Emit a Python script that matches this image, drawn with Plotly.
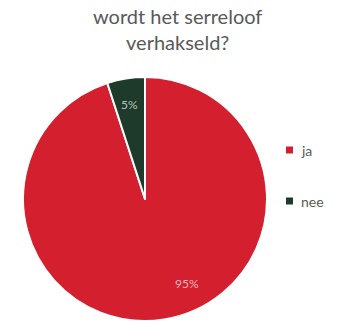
import plotly.graph_objects as go

labels = ["ja", "nee"]
values = [95, 5]
colors = ["#D31F2E", "#1E3A2B"]
title_text = "wordt het serreloof<br>verhakseld?"

fig = go.Figure()
fig.add_trace(go.Pie(
    labels=labels,
    values=values,
    sort=False,
    direction="clockwise",
    rotation=0,
    marker=dict(colors=colors, line=dict(color="white", width=2)),
    textinfo="none",
    hoverinfo="label+percent",
    showlegend=False,
    domain=dict(x=[0.067, 0.781], y=[0.0, 0.76]),
))

# slice percentage labels
label_pos = [(187, 293), (129, 95)]
label_col = ["#F2B8BE", "#B9C2BC"]
for v, (px, py), c in zip(values, label_pos, label_col):
    fig.add_annotation(
        x=px / 342, y=1 - py / 321, xref="paper", yref="paper",
        text=f"{round(100 * v / sum(values))}%", showarrow=False,
        font=dict(family="Lato, Open Sans, sans-serif", size=12, color=c),
    )

# legend
legend_y = [150, 201]
for lab, col, ly in zip(labels, colors, legend_y):
    fig.add_shape(
        type="rect", xref="paper", yref="paper",
        x0=286 / 342, x1=293 / 342, y0=1 - (ly + 3.5) / 321, y1=1 - (ly - 3.5) / 321,
        fillcolor=col, line=dict(width=0),
    )
    fig.add_annotation(
        x=299 / 342, y=1 - ly / 321, xref="paper", yref="paper",
        text=lab, showarrow=False, xanchor="left",
        font=dict(family="Lato, Open Sans, sans-serif", size=14, color="#595959"),
    )

fig.add_annotation(
    x=177 / 342, y=1 - 2 / 321, xref="paper", yref="paper",
    yanchor="top",
    text=title_text, showarrow=False,
    font=dict(family="Lato, Open Sans, sans-serif", size=20, color="#595959"),
)

fig.update_layout(
    width=342, height=321,
    margin=dict(l=0, r=0, t=0, b=0),
    paper_bgcolor="white", plot_bgcolor="white",
)

fig.write_html("out.html")
